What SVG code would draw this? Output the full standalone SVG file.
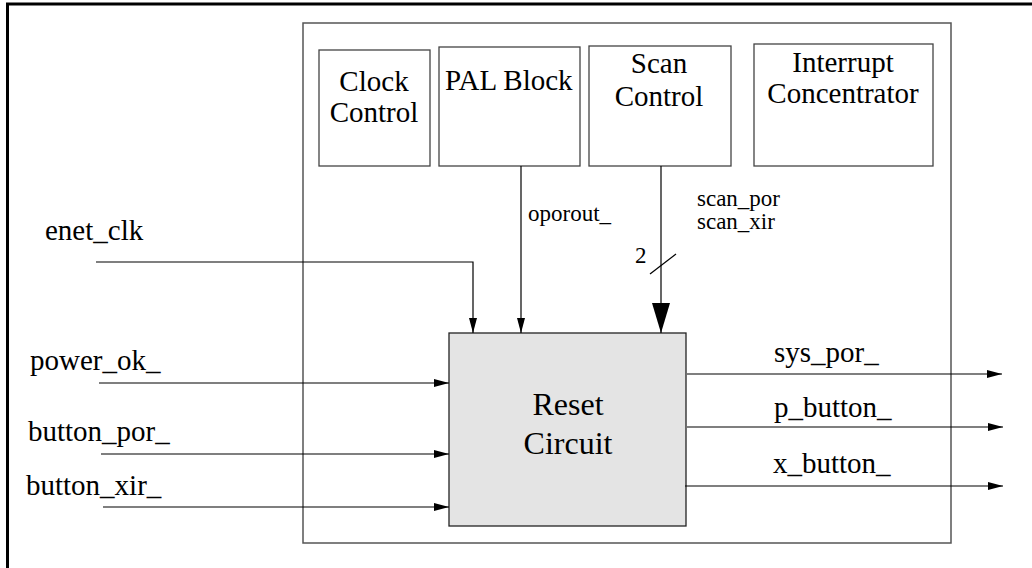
<svg xmlns="http://www.w3.org/2000/svg" width="1032" height="568" viewBox="0 0 1032 568">
  <style>
    text { font-family: 'Liberation Serif', 'DejaVu Serif', serif; fill: #000; }
    .lbl { font-size: 29px; }
    .small { font-size: 23px; }
    .big { font-size: 32px; text-anchor: middle; }
    .mid { text-anchor: middle; }
    .box { fill: #fff; stroke: #444; stroke-width: 1.3; }
    .conn { fill: none; stroke: #000; stroke-width: 1.2; }
  </style>
  <defs>
    <marker id="ah" markerUnits="userSpaceOnUse" markerWidth="16" markerHeight="10" refX="15" refY="4" orient="auto">
      <path d="M0,0 L15,4 L0,8 Z" fill="#000"/>
    </marker>
    <marker id="ahBig" markerUnits="userSpaceOnUse" markerWidth="32" markerHeight="20" refX="30" refY="9" orient="auto">
      <path d="M0,0 L30,9 L0,18 Z" fill="#000"/>
    </marker>
  </defs>
  <rect width="1032" height="568" fill="#fff"/>
  <rect x="7.5" y="4" width="1030" height="570" fill="none" stroke="#000" stroke-width="3"/>

  <g id="system">
    <rect x="303" y="23" width="648" height="520" fill="none" stroke="#555" stroke-width="1.5"/>
  </g>

  <g id="clock-control">
    <rect class="box" x="319" y="50" width="111" height="116"/>
    <text class="lbl mid" x="374" y="91">Clock</text>
    <text class="lbl mid" x="374" y="122">Control</text>
  </g>
  <g id="pal-block">
    <rect class="box" x="439" y="47" width="141" height="119"/>
    <text class="lbl" x="445" y="90" font-size="27">PAL Block</text>
  </g>
  <g id="scan-control">
    <rect class="box" x="589" y="46" width="142" height="120"/>
    <text class="lbl mid" x="659" y="73">Scan</text>
    <text class="lbl mid" x="659" y="106">Control</text>
  </g>
  <g id="interrupt-concentrator">
    <rect class="box" x="754" y="44" width="179" height="122"/>
    <text class="lbl mid" x="843" y="72">Interrupt</text>
    <text class="lbl mid" x="843" y="103">Concentrator</text>
  </g>
  <g id="reset-circuit">
    <rect x="449" y="333" width="237" height="193" fill="#e4e4e4" stroke="#222" stroke-width="1.3"/>
    <text class="big" x="568" y="415">Reset</text>
    <text class="big" x="568" y="454">Circuit</text>
  </g>

  <g id="connectors">
    <path class="conn" d="M96,262 H473 V333" marker-end="url(#ah)"/>
    <path class="conn" d="M99,383 H449" marker-end="url(#ah)"/>
    <path class="conn" d="M101,454 H449" marker-end="url(#ah)"/>
    <path class="conn" d="M103,507 H449" marker-end="url(#ah)"/>
    <path class="conn" d="M521,166 V333" marker-end="url(#ah)"/>
    <path class="conn" d="M661,166 V333" stroke="#333" marker-end="url(#ahBig)"/>
    <path class="conn" d="M650,274 L676,254"/>
    <path class="conn" d="M687,374 H1002" marker-end="url(#ah)"/>
    <path class="conn" d="M687,427 H1003" marker-end="url(#ah)"/>
    <path class="conn" d="M685,486 H1003" marker-end="url(#ah)"/>
  </g>

  <g id="labels">
    <text class="lbl" x="45" y="240">enet_clk</text>
    <text class="lbl" x="30" y="370">power_ok_</text>
    <text class="lbl" x="28" y="441">button_por_</text>
    <text class="lbl" x="26" y="495">button_xir_</text>
    <text class="small" x="528" y="221">oporout_</text>
    <text class="small" x="697" y="206">scan_por</text>
    <text class="small" x="697" y="229">scan_xir</text>
    <text class="small" x="635" y="263" font-size="21">2</text>
    <text class="lbl" x="774" y="362">sys_por_</text>
    <text class="lbl" x="774" y="417">p_button_</text>
    <text class="lbl" x="773" y="473">x_button_</text>
  </g>
</svg>
